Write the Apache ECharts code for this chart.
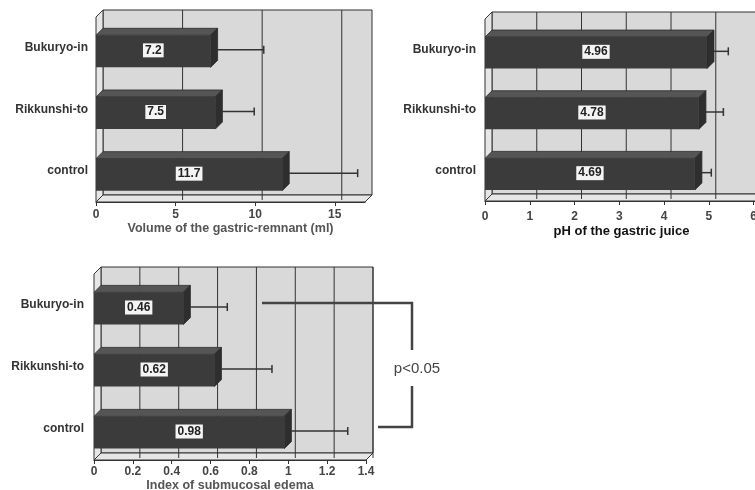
<!DOCTYPE html>
<html>
<head>
<meta charset="utf-8">
<script src="https://cdn.jsdelivr.net/npm/echarts@6/dist/echarts.min.js"></script>
<style>
  html, body { margin: 0; padding: 0; background: #fff; }
  #root { width: 755px; height: 490px; }
</style>
</head>
<body>
<div id="root"></div>
<script>
// groups, shown top to bottom
var categories = ['Bukuryo-in', 'Rikkunshi-to', 'control'];

// volume of the gastric remnant (ml): mean and SD
var volumeMean = [7.2, 7.5, 11.7];
var volumeSD = [2.9, 2.0, 4.3];
var volumeTicks = [0, 5, 10, 15];

// pH of the gastric juice
var phMean = [4.96, 4.78, 4.69];
var phSD = [0.32, 0.39, 0.21];
var phTicks = [0, 1, 2, 3, 4, 5, 6];

// index of submucosal edema
var edemaMean = [0.46, 0.62, 0.98];
var edemaSD = [0.19, 0.26, 0.29];
var edemaTicks = [0, 0.2, 0.4, 0.6, 0.8, 1, 1.2, 1.4];

var FONT = "'Liberation Sans', Arial, sans-serif";
var D = 7; // depth of the 3d look

var panels = [
  { grid: { left: 96, top: 17, width: 269, height: 185, outerBoundsMode: 'none' }, max: 16.9, interval: 5,
    ticks: volumeTicks, mean: volumeMean, sd: volumeSD,
    name: 'Volume of the gastric-remnant (ml)', nameGap: 20, nameColor: '#555', nameSize: 12.5,
    labelMargin: 7, catMargin: 8 },
  { grid: { left: 485, top: 19, width: 273, height: 182, outerBoundsMode: 'none' }, max: 6.1, interval: 1,
    ticks: phTicks, mean: phMean, sd: phSD,
    name: 'pH of the gastric juice', nameGap: 24, nameColor: '#111', nameSize: 13,
    labelMargin: 10, catMargin: 9 },
  { grid: { left: 94, top: 274, width: 272, height: 186, outerBoundsMode: 'none' }, max: 1.4, interval: 0.2,
    ticks: edemaTicks, mean: edemaMean, sd: edemaSD,
    name: 'Index of submucosal edema', nameGap: 15, nameColor: '#555', nameSize: 12.5,
    labelMargin: 6, catMargin: 10 }
];

function frameRenderer (ticks) {
  return function (params, api) {
    var cs = params.coordSys
    var x = cs.x, y = cs.y, w = cs.width, h = cs.height
    var line = { stroke: '#333', lineWidth: 1 }
    var kids = [
      { type: 'rect', shape: { x: x + D, y: y - D, width: w, height: h },
        style: { fill: '#d9d9d9', stroke: '#333', lineWidth: 1 } },
      { type: 'polygon', shape: { points: [[x, y], [x + D, y - D], [x + D, y + h - D], [x, y + h]] },
        style: { fill: '#e6e6e6', stroke: '#333', lineWidth: 1 } },
      { type: 'polygon', shape: { points: [[x, y + h], [x + D, y + h - D], [x + w + D, y + h - D], [x + w, y + h]] },
        style: { fill: '#e6e6e6', stroke: '#333', lineWidth: 1 } }
    ]
    for (var i = 0; i < ticks.length; i++) {
      if (ticks[i] <= 0) continue
      var xt = api.coord([ticks[i], 0])[0]
      kids.push({ type: 'line', shape: { x1: xt + D, y1: y - D, x2: xt + D, y2: y + h - D }, style: line })
      kids.push({ type: 'line', shape: { x1: xt + D, y1: y + h - D, x2: xt + D, y2: y + h - 2 }, style: line })
    }
    return { type: 'group', children: kids }
  }
}

function renderBar (params, api) {
  var j = api.value(1)
  var v = api.value(0)
  var p0 = api.coord([0, j])
  var p1 = api.coord([v, j])
  var band = api.size([0, 1])[1]
  var h = band * 0.52
  var x0 = p0[0], x1 = p1[0]
  var yc = p0[1] + D / 2
  var yt = yc - h / 2, yb = yc + h / 2
  return {
    type: 'group',
    children: [
      { type: 'polygon', shape: { points: [[x0, yt], [x0 + D, yt - D], [x1 + D, yt - D], [x1, yt]] },
        style: { fill: '#555', stroke: '#2a2a2a', lineWidth: 0.8 } },
      { type: 'polygon', shape: { points: [[x1, yt], [x1 + D, yt - D], [x1 + D, yb - D], [x1, yb]] },
        style: { fill: '#2e2e2e', stroke: '#2a2a2a', lineWidth: 0.8 } },
      { type: 'rect', shape: { x: x0, y: yt, width: x1 - x0, height: h },
        style: { fill: '#3b3b3b' } },
      { type: 'text', x: (x0 + x1) / 2, y: yc - 1,
        style: { text: String(v), fill: '#222', font: 'bold 12px ' + FONT,
          align: 'center', verticalAlign: 'middle', backgroundColor: '#f4f4f4', padding: [1, 2] } }
    ]
  }
}

function renderError (params, api) {
  var j = api.value(1)
  var a = api.coord([api.value(0), j])
  var b = api.coord([api.value(0) + api.value(2), j])
  var y = a[1] + 2
  var st = { stroke: '#333', lineWidth: 1.5 }
  return {
    type: 'group',
    children: [
      { type: 'line', shape: { x1: a[0] + D, y1: y, x2: b[0] + D, y2: y }, style: st },
      { type: 'line', shape: { x1: b[0] + D, y1: y - 4, x2: b[0] + D, y2: y + 4 }, style: st }
    ]
  }
}

var option = { animation: false, backgroundColor: '#fff', grid: [], xAxis: [], yAxis: [], series: [] }

panels.forEach(function (p, i) {
  option.grid.push(p.grid)
  option.xAxis.push({
    gridIndex: i, type: 'value', min: 0, max: p.max, interval: p.interval,
    name: p.name, nameLocation: 'middle', nameGap: p.nameGap,
    nameTextStyle: { color: p.nameColor, fontSize: p.nameSize, fontWeight: 'bold', fontFamily: FONT, verticalAlign: 'top' },
    axisLine: { show: true, lineStyle: { color: '#333', width: 1.2 } },
    axisTick: { show: true, length: 4, customValues: p.ticks, lineStyle: { color: '#333' } },
    axisLabel: { customValues: p.ticks, margin: p.labelMargin, color: '#444', fontSize: 12, fontWeight: 'bold', fontFamily: FONT },
    splitLine: { show: false }
  })
  option.yAxis.push({
    gridIndex: i, type: 'category', data: categories, inverse: true,
    axisLine: { show: false }, axisTick: { show: false },
    axisLabel: { margin: p.catMargin, color: '#333', fontSize: 12, fontWeight: 'bold', fontFamily: FONT },
    splitLine: { show: false }
  })
  var rows = categories.map(function (c, k) { return [p.mean[k], k, p.sd[k]] })
  option.series.push({
    type: 'custom', xAxisIndex: i, yAxisIndex: i, z: 1, silent: true,
    renderItem: frameRenderer(p.ticks), data: [[0, 0]]
  })
  option.series.push({
    type: 'custom', xAxisIndex: i, yAxisIndex: i, z: 3, silent: true,
    renderItem: renderError, encode: { x: 0, y: 1 }, data: rows
  })
  option.series.push({
    type: 'custom', xAxisIndex: i, yAxisIndex: i, z: 4, silent: true,
    renderItem: renderBar, encode: { x: 0, y: 1 }, data: rows
  })
})

// significance bracket between Bukuryo-in and control in the edema panel
var br = { stroke: '#444', lineWidth: 2.5 }
option.graphic = [
  { type: 'polyline', z: 50, shape: { points: [[262, 303], [412, 303], [412, 350]] }, style: Object.assign({ fill: null }, br) },
  { type: 'polyline', z: 50, shape: { points: [[412, 386], [412, 427], [378, 427]] }, style: Object.assign({ fill: null }, br) },
  { type: 'text', z: 50, x: 417, y: 369,
    style: { text: 'p<0.05', fill: '#444', font: '15px ' + FONT, align: 'center', verticalAlign: 'middle' } }
]

var chart = echarts.init(document.getElementById('root'))
chart.setOption(option)
</script>
</body>
</html>
